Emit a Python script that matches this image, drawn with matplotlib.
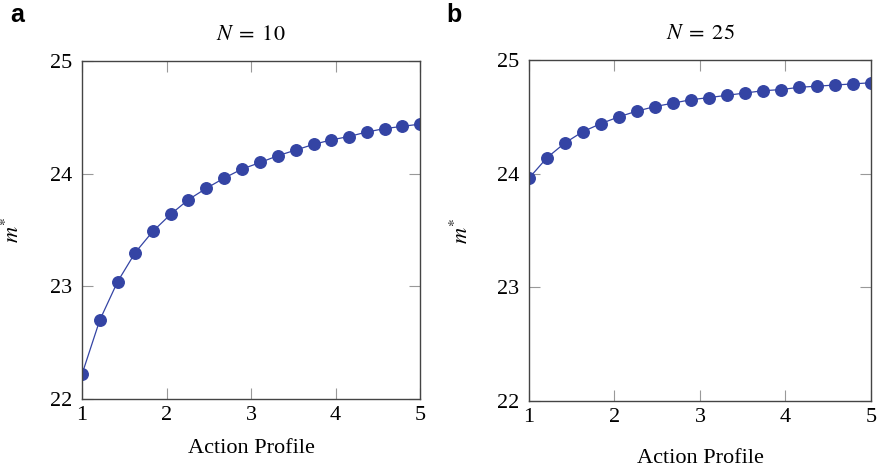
import matplotlib
matplotlib.use("Agg")
import matplotlib.pyplot as plt

plt.rcParams['font.family'] = ['Liberation Serif', 'DejaVu Serif']
plt.rcParams['mathtext.fontset'] = 'stix'

# action profile grid (20 evenly spaced points from 1 to 5)
action = [1.00, 1.21, 1.42, 1.63, 1.84, 2.05, 2.26, 2.47, 2.68, 2.89,
          3.11, 3.32, 3.53, 3.74, 3.95, 4.16, 4.37, 4.58, 4.79, 5.00]

m_n10 = [22.22, 22.70, 23.04, 23.30, 23.49, 23.64, 23.77, 23.87, 23.96, 24.04,
         24.10, 24.16, 24.21, 24.26, 24.30, 24.33, 24.37, 24.40, 24.42, 24.44]

m_n25 = [23.96, 24.14, 24.27, 24.37, 24.44, 24.50, 24.55, 24.59, 24.62, 24.65,
         24.67, 24.69, 24.71, 24.73, 24.74, 24.76, 24.77, 24.78, 24.79, 24.80]

titles = [r'$N\;=\;10$', r'$N\;=\;25$']
panel_tags = ['a', 'b']

color = "#3444a4"

fig = plt.figure(figsize=(8.8, 4.73), dpi=100)
ax1 = fig.add_axes([0.0932, 0.1564, 0.3841, 0.7146])
ax2 = fig.add_axes([0.6011, 0.1522, 0.3886, 0.7209])

xlab_y = [-0.118, -0.141]
ylab_x = [-0.172, -0.164]

for i, (ax, m) in enumerate(zip([ax1, ax2], [m_n10, m_n25])):
    ax.plot(action, m, '-o', color=color, lw=0.9, markersize=8.3)
    ax.set_xlim(1, 5)
    ax.set_ylim(22, 25)
    ax.set_xticks([1, 2, 3, 4, 5])
    ax.set_yticks([22, 23, 24, 25])
    ax.tick_params(direction='in', top=True, right=True, length=8,
                   width=0.8, color='#999999', labelsize=16)
    ax.tick_params(axis='x', pad=5)
    ax.tick_params(axis='y', pad=7)
    for s in ax.spines.values():
        s.set_color('#444444')
        s.set_linewidth(1.0)
    ax.set_title(titles[i], fontsize=16, pad=15)
    ax.set_xlabel('Action Profile', fontsize=16)
    ax.xaxis.set_label_coords(0.5, xlab_y[i])
    ax.set_ylabel(r'$m^{*}$', fontsize=16)
    ax.yaxis.set_label_coords(ylab_x[i], 0.5)

fig.text(10 / 880, 1 - 15 / 473, panel_tags[0], fontsize=18, fontweight='bold',
         family='Liberation Sans', va='center', ha='left')
fig.text(446 / 880, 1 - 15 / 473, panel_tags[1], fontsize=18, fontweight='bold',
         family='Liberation Sans', va='center', ha='left')

plt.savefig("out.png", dpi=100)
